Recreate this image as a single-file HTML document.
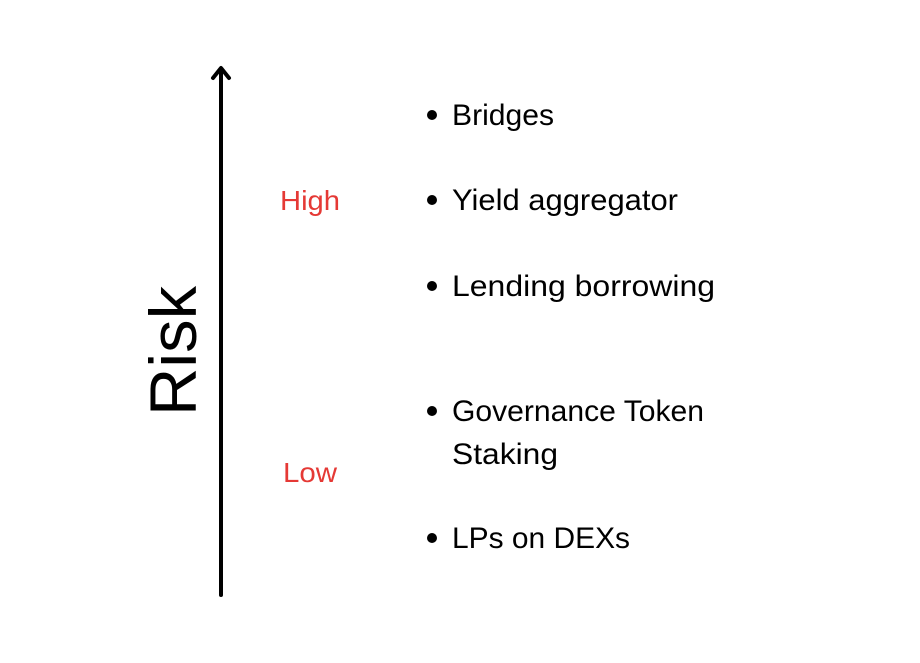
<!DOCTYPE html>
<html><head><style>body{margin:0;background:#fff}</style></head><body>
<svg width="920" height="658" xmlns="http://www.w3.org/2000/svg" font-family="Liberation Sans, sans-serif">
<rect width="920" height="658" fill="#fff"/>
<line x1="221" y1="70" x2="221" y2="595" stroke="#000" stroke-width="4" stroke-linecap="round"/>
<polyline points="213,78 221,68 229,78" fill="none" stroke="#000" stroke-width="4" stroke-linecap="round" stroke-linejoin="round"/>
<text transform="translate(196,416) rotate(-90)" font-size="66" textLength="130" lengthAdjust="spacingAndGlyphs">Risk</text>
<text x="280" y="210" font-size="28" fill="#e53935" textLength="60" lengthAdjust="spacingAndGlyphs">High</text>
<text x="283" y="482" font-size="28" fill="#e53935" textLength="54" lengthAdjust="spacingAndGlyphs">Low</text>
<g font-size="30" fill="#000">
<circle cx="432" cy="115" r="5"/><text x="452" y="125" textLength="102" lengthAdjust="spacingAndGlyphs">Bridges</text>
<circle cx="432" cy="200" r="5"/><text x="452" y="210" textLength="226" lengthAdjust="spacingAndGlyphs">Yield aggregator</text>
<circle cx="432" cy="286" r="5"/><text x="452" y="296" textLength="263" lengthAdjust="spacingAndGlyphs">Lending borrowing</text>
<circle cx="432" cy="411" r="5"/><text x="452" y="421" textLength="252" lengthAdjust="spacingAndGlyphs">Governance Token</text>
<text x="452" y="464" textLength="106" lengthAdjust="spacingAndGlyphs">Staking</text>
<circle cx="432" cy="538" r="5"/><text x="452" y="548" textLength="178" lengthAdjust="spacingAndGlyphs">LPs on DEXs</text>
</g>
</svg>
</body></html>
